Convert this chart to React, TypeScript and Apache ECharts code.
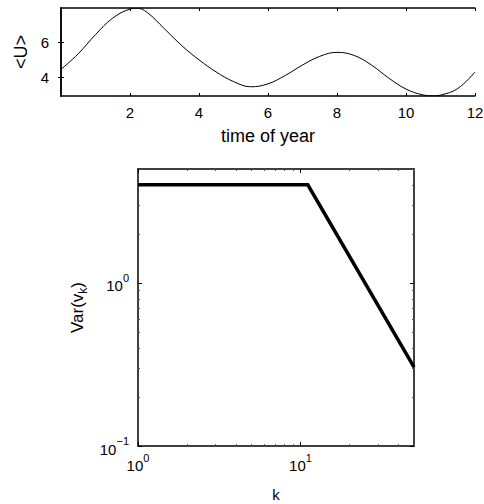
import React, { useEffect, useRef } from "react";
import * as echarts from "echarts";

const timeOfYear = [0, 0.5, 1, 1.5, 2, 2.2, 2.5, 3, 3.5, 4, 4.5, 5, 5.5, 6, 6.5, 7, 7.5, 8, 8.5, 9, 9.5, 10, 10.5, 10.8, 11, 11.5, 12];
const meanU = [4.45, 5.35, 6.45, 7.4, 7.92, 7.97, 7.72, 6.78, 5.82, 5.0, 4.3, 3.75, 3.45, 3.62, 4.1, 4.7, 5.2, 5.43, 5.25, 4.7, 3.95, 3.32, 2.98, 2.93, 2.97, 3.35, 4.3];
const timeTicks = [2, 4, 6, 8, 10, 12];
const uTicks = [4, 6];

const kValues = [1, 11.1, 50];
const varValues = [4, 4, 0.305];
const kMajor = [1, 10];
const kMinor = [2, 3, 4, 5, 6, 7, 8, 9, 20, 30, 40, 50];
const varMajor = [0.1, 1];
const varMinor = [0.2, 0.3, 0.4, 0.5, 0.6, 0.7, 0.8, 0.9, 2, 3, 4, 5];

const FONT = "Liberation Sans, Arial, Helvetica, sans-serif";
const BLACK = "#000";

const pow10Label = (v: number) => {
  const e = Math.round(Math.log10(v));
  const s = e < 0 ? "\u2212" + Math.abs(e) : String(e);
  return `{b|10}{sup|${s}}`;
};
const richPow = {
  b: { fontSize: 15, fontFamily: FONT, color: BLACK, lineHeight: 21, verticalAlign: "bottom" },
  sup: { fontSize: 11, fontFamily: FONT, color: BLACK, lineHeight: 21, verticalAlign: "top" },
};

export default function App() {
  const ref = useRef<HTMLDivElement>(null);
  useEffect(() => {
    if (!ref.current) return;
    const chart = echarts.init(ref.current, null, { renderer: "svg" });
    const lineStyle = { color: BLACK, width: 1.5 };
    const hidden = { show: false };
    const option: any = {
      animation: false,
      backgroundColor: "#fff",
      textStyle: { fontFamily: FONT, color: BLACK },
      grid: [
        { left: 61, top: 8, right: 9, height: 88, containLabel: false, outerBoundsMode: "none" },
        { left: 138, top: 169, right: 70, height: 277, containLabel: false, outerBoundsMode: "none" },
      ],
      xAxis: [
        {
          gridIndex: 0, type: "value", min: 0, max: 12, interval: 2, position: "bottom",
          axisLine: { show: true, lineStyle }, splitLine: hidden,
          axisTick: { show: true, inside: true, length: 3, lineStyle: { color: BLACK }, customValues: timeTicks },
          axisLabel: { customValues: timeTicks, fontSize: 15, color: BLACK, fontFamily: FONT, margin: 9 },
          name: "time of year", nameLocation: "middle", nameGap: 31,
          nameTextStyle: { fontSize: 18, color: BLACK, fontFamily: FONT },
        },
        {
          gridIndex: 0, type: "value", min: 0, max: 12, interval: 2, position: "top",
          axisLine: { show: true, lineStyle }, splitLine: hidden,
          axisTick: { show: true, inside: true, length: 3, lineStyle: { color: BLACK }, customValues: timeTicks },
          axisLabel: hidden,
        },
        {
          gridIndex: 1, type: "log", min: 1, max: 50, position: "bottom",
          axisLine: { show: true, lineStyle }, splitLine: hidden, minorTick: hidden,
          axisTick: { show: true, inside: true, length: 4, lineStyle: { color: BLACK }, customValues: kMajor },
          axisLabel: { customValues: kMajor, formatter: pow10Label, rich: richPow, margin: 6 },
          name: "k", nameLocation: "middle", nameGap: 41,
          nameTextStyle: { fontSize: 15, color: BLACK, fontFamily: FONT },
        },
        {
          gridIndex: 1, type: "log", min: 1, max: 50, position: "bottom",
          axisLine: hidden, splitLine: hidden,
          axisTick: { show: true, inside: true, length: 2, lineStyle: { color: "#555" }, customValues: kMinor },
          axisLabel: hidden,
        },
        {
          gridIndex: 1, type: "log", min: 1, max: 50, position: "top",
          axisLine: { show: true, lineStyle }, splitLine: hidden,
          axisTick: { show: true, inside: true, length: 4, lineStyle: { color: BLACK }, customValues: kMajor },
          axisLabel: hidden,
        },
        {
          gridIndex: 1, type: "log", min: 1, max: 50, position: "top",
          axisLine: hidden, splitLine: hidden,
          axisTick: { show: true, inside: true, length: 2, lineStyle: { color: "#555" }, customValues: kMinor },
          axisLabel: hidden,
        },
      ],
      yAxis: [
        {
          gridIndex: 0, type: "value", min: 2.92, max: 7.98, position: "left",
          axisLine: { show: true, lineStyle }, splitLine: hidden,
          axisTick: { show: true, inside: true, length: 3, lineStyle: { color: BLACK }, customValues: uTicks },
          axisLabel: { customValues: uTicks, fontSize: 15, color: BLACK, fontFamily: FONT, margin: 12 },
          name: "<U>", nameLocation: "middle", nameGap: 29, nameRotate: 90,
          nameTextStyle: { fontSize: 18, color: BLACK, fontFamily: FONT },
        },
        {
          gridIndex: 0, type: "value", min: 2.92, max: 7.98, position: "right",
          axisLine: { show: true, lineStyle }, splitLine: hidden,
          axisTick: { show: true, inside: true, length: 3, lineStyle: { color: BLACK }, customValues: uTicks },
          axisLabel: hidden,
        },
        {
          gridIndex: 1, type: "log", min: 0.1, max: 5, position: "left",
          axisLine: { show: true, lineStyle }, splitLine: hidden, minorTick: hidden,
          axisTick: { show: true, inside: true, length: 4, lineStyle: { color: BLACK }, customValues: varMajor },
          axisLabel: { customValues: varMajor, formatter: pow10Label, rich: richPow, margin: 9 },
          name: "Var(v{sub|k})", nameLocation: "middle", nameGap: 48, nameRotate: 90,
          nameTextStyle: {
            fontSize: 17, color: BLACK, fontFamily: FONT,
            rich: {
              sub: { fontSize: 12, fontFamily: FONT, color: BLACK, verticalAlign: "bottom", lineHeight: 22 },
            },
          },
        },
        {
          gridIndex: 1, type: "log", min: 0.1, max: 5, position: "left",
          axisLine: hidden, splitLine: hidden,
          axisTick: { show: true, inside: true, length: 2, lineStyle: { color: "#555" }, customValues: varMinor },
          axisLabel: hidden,
        },
        {
          gridIndex: 1, type: "log", min: 0.1, max: 5, position: "right",
          axisLine: { show: true, lineStyle }, splitLine: hidden,
          axisTick: { show: true, inside: true, length: 4, lineStyle: { color: BLACK }, customValues: varMajor },
          axisLabel: hidden,
        },
        {
          gridIndex: 1, type: "log", min: 0.1, max: 5, position: "right",
          axisLine: hidden, splitLine: hidden,
          axisTick: { show: true, inside: true, length: 2, lineStyle: { color: "#555" }, customValues: varMinor },
          axisLabel: hidden,
        },
      ],
      series: [
        {
          type: "line", xAxisIndex: 0, yAxisIndex: 0,
          data: timeOfYear.map((t, i) => [t, meanU[i]]),
          smooth: 0.4, showSymbol: false, symbol: "none",
          lineStyle: { color: BLACK, width: 1 },
        },
        {
          type: "line", xAxisIndex: 2, yAxisIndex: 2,
          data: kValues.map((k, i) => [k, varValues[i]]),
          showSymbol: false, symbol: "none",
          lineStyle: { color: BLACK, width: 3.5, join: "miter" },
        },
      ],
    };
    chart.setOption(option);
    return () => chart.dispose();
  }, []);
  return (
    <div
      ref={ref}
      style={{ position: "absolute", left: 0, top: 0, width: 484, height: 504, background: "#fff" }}
    />
  );
}
